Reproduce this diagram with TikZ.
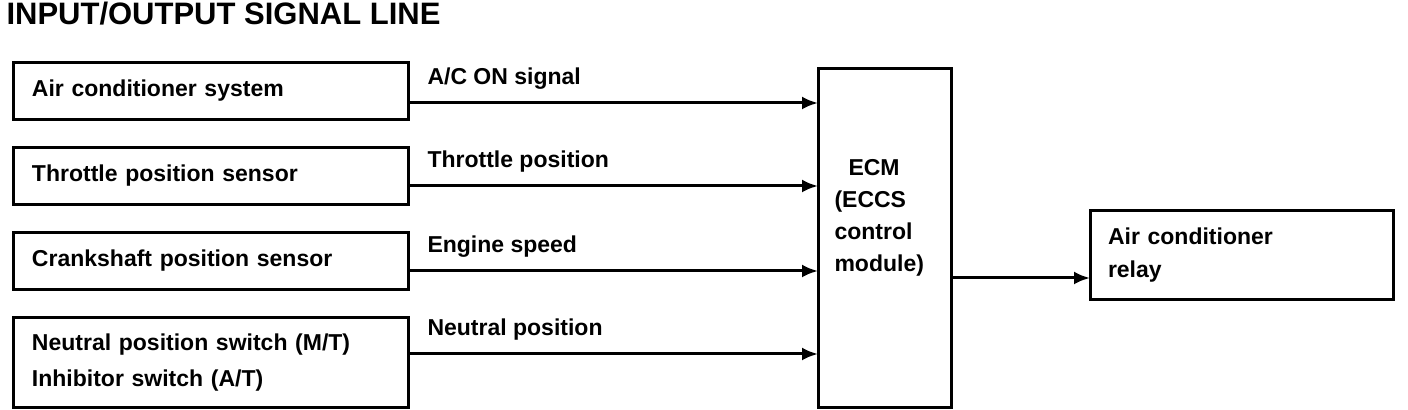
\documentclass[tikz,border=0pt]{standalone}
\usepackage{fontspec}
\setmainfont{Liberation Sans}
\usetikzlibrary{arrows.meta, positioning}

\begin{document}
\begin{tikzpicture}[x=0.5pt,y=-0.5pt,>={Latex[length=8pt,width=6.5pt]},line width=1.5pt,node distance=14pt,
  block/.style={draw,outer sep=0pt,inner sep=0pt,minimum width=197.5pt,minimum height=28.5pt,
    text width=178.5pt,align=left,font=\fontsize{11.5}{18}\selectfont\bfseries},
  sig/.style={pos=0,anchor=base west,xshift=9pt,yshift=9pt,inner sep=0pt,
    font=\fontsize{11.5}{16}\selectfont\bfseries}]

\useasboundingbox (0,0) rectangle (1408,410);

% title
  \node[anchor=base west,inner sep=0pt,font=\fontsize{15.5}{18}\selectfont\bfseries] (title) at (5,25)
{INPUT/OUTPUT SIGNAL LINE};

% define the input blocks
  \node[block]    (ac) at (210.5,91)
{Air conditioner system};
  \node[block]    (tps)   [below=of ac]
{Throttle position sensor};
  \node[block]    (cps)   [below=of tps]
{Crankshaft position sensor};
  \node[block, minimum height=45pt]    (nps)   [below=of cps]
{Neutral position switch (M/T)\\Inhibitor switch (A/T)};

% define the control module and the relay
  \node[draw,outer sep=0pt,minimum width=66.5pt,minimum height=169.5pt] (ecm) at (884.5,238.5) {};
  \node[anchor=north west,inner sep=0pt,align=left,font=\fontsize{11.5}{16}\selectfont\bfseries] (ecmtext)
    at ([xshift=7.5pt,yshift=-44.5pt]ecm.north west)
{\hspace*{7pt}ECM\\(ECCS\\control\\module)};
  \node[draw,outer sep=0pt,inner sep=0pt,minimum width=151.5pt,minimum height=44.5pt,
    text width=133.5pt,align=left,font=\fontsize{11.5}{16.5}\selectfont\bfseries] (relay) at (1241.5,255.5)
{Air conditioner\\relay};

% define the links
  \path[->] (ac.east |- 0,103) edge node[sig] {A/C ON signal} (ecm.west |- 0,103)
        (tps.east |- 0,186) edge node[sig] {Throttle position} (ecm.west |- 0,186)
        (cps.east |- 0,271) edge node[sig] {Engine speed} (ecm.west |- 0,271)
        (nps.east |- 0,354) edge node[sig] {Neutral position} (ecm.west |- 0,354)
        (ecm.east |- 0,278) edge (relay.west |- 0,278);

\end{tikzpicture}
\end{document}
